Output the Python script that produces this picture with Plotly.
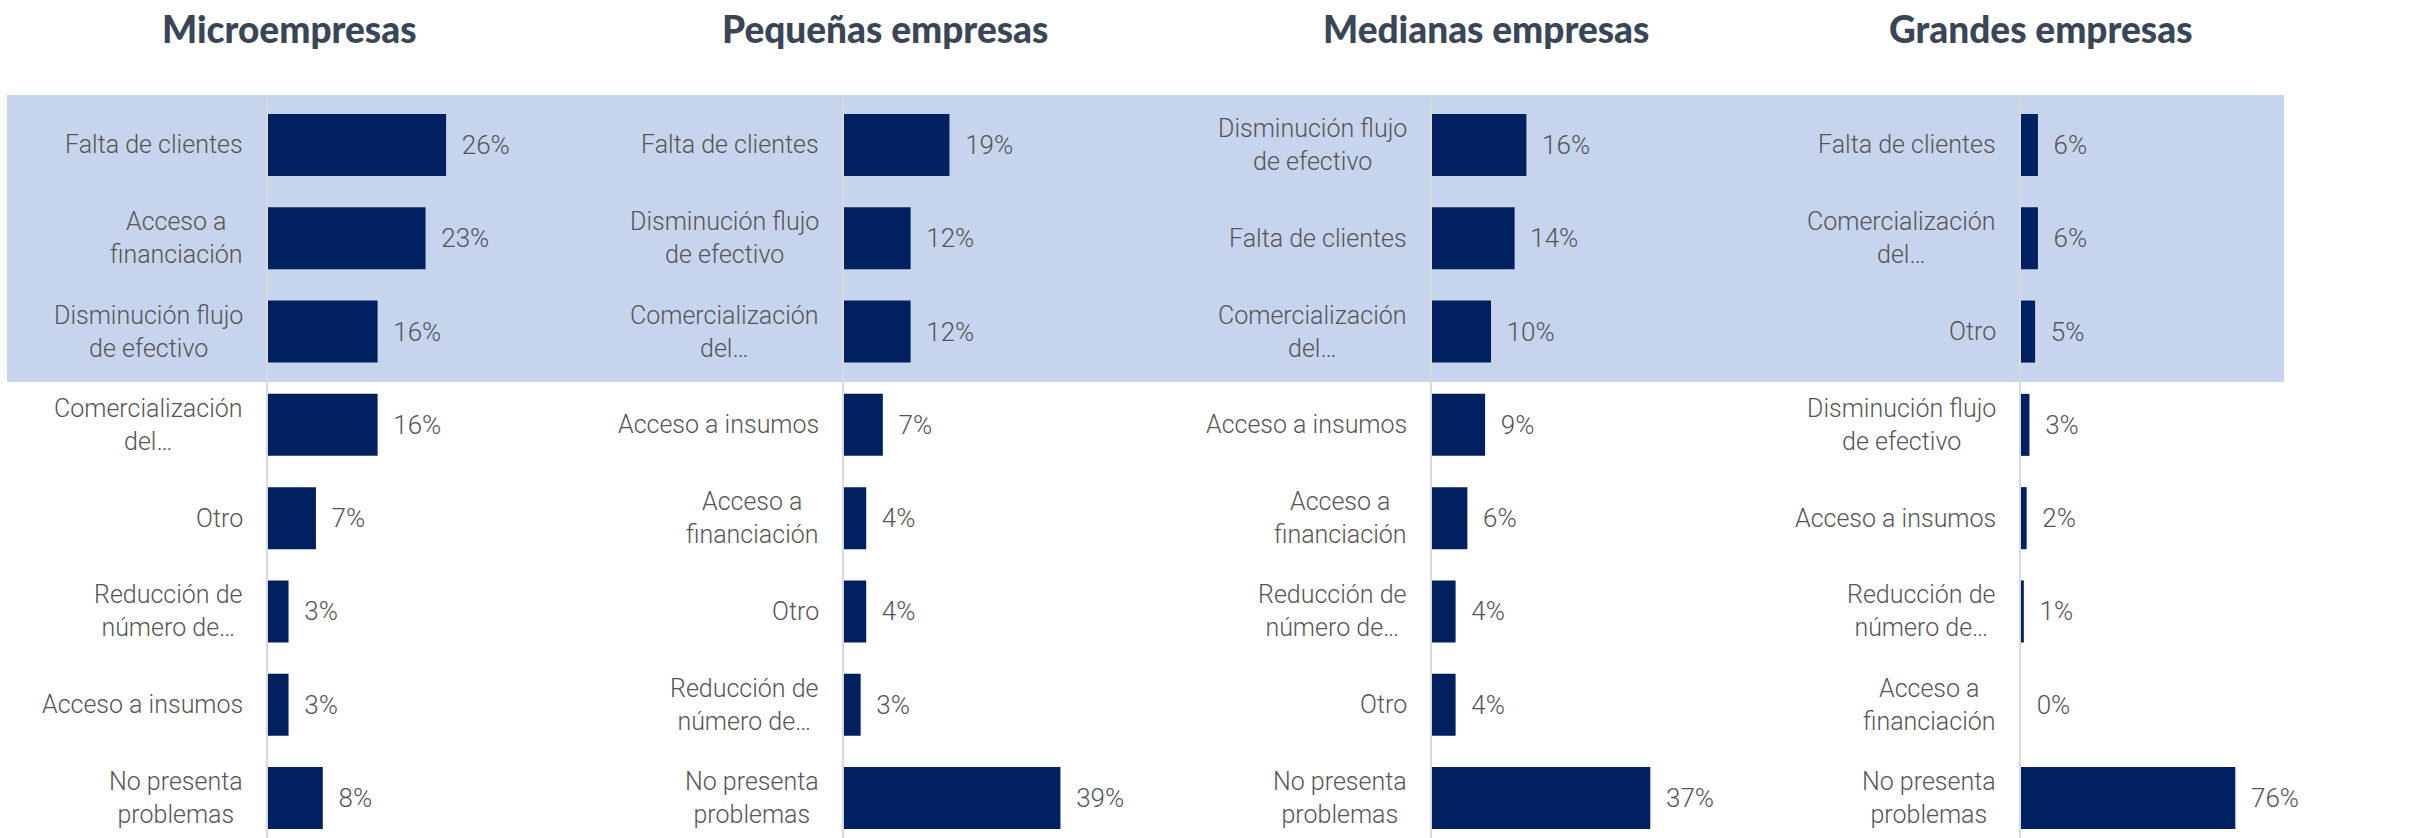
import plotly.graph_objects as go

W, H = 2413, 838

titles = ["Microempresas", "Pequeñas empresas", "Medianas empresas", "Grandes empresas"]

micro_labels = ["Falta de clientes", "Acceso a<br>financiación", "Disminución flujo<br>de efectivo",
                "Comercialización<br>del…", "Otro", "Reducción de<br>número de…",
                "Acceso a insumos", "No presenta<br>problemas"]
micro_values = [26, 23, 16, 16, 7, 3, 3, 8]

pequenas_labels = ["Falta de clientes", "Disminución flujo<br>de efectivo", "Comercialización<br>del…",
                   "Acceso a insumos", "Acceso a<br>financiación", "Otro",
                   "Reducción de<br>número de…", "No presenta<br>problemas"]
pequenas_values = [19, 12, 12, 7, 4, 4, 3, 39]

medianas_labels = ["Disminución flujo<br>de efectivo", "Falta de clientes", "Comercialización<br>del…",
                   "Acceso a insumos", "Acceso a<br>financiación", "Reducción de<br>número de…",
                   "Otro", "No presenta<br>problemas"]
medianas_values = [16, 14, 10, 9, 6, 4, 4, 37]

grandes_labels = ["Falta de clientes", "Comercialización<br>del…", "Otro",
                  "Disminución flujo<br>de efectivo", "Acceso a insumos", "Reducción de<br>número de…",
                  "Acceso a<br>financiación", "No presenta<br>problemas"]
grandes_values = [6, 6, 5, 3, 2, 1, 0, 76]

panels = [
    (micro_labels, micro_values),
    (pequenas_labels, pequenas_values),
    (medianas_labels, medianas_values),
    (grandes_labels, grandes_values),
]

# layout geometry (pixels in the reference screenshot)
axis_px = [268, 844, 1432, 2021]
right_px = [560, 1170, 1760, 2413]
px_per_unit = [6.85, 5.55, 5.9, 2.82]
title_cx = [289, 885, 1486, 2041]
plot_top = 98.3
pitch = 93.3


def fx(px):
    return px / W


def fy(py):
    return 1 - py / H


BAR = "#002060"
TXT = "#555555"
LABEL_FONT = "Roboto"

fig = go.Figure()
layout = dict(
    width=W, height=H,
    margin=dict(l=0, r=0, t=0, b=0),
    paper_bgcolor="white",
    plot_bgcolor="rgba(0,0,0,0)",
    showlegend=False,
    bargap=0.335,
)

y_bottom = -0.5 + (H - plot_top) / pitch
annotations = []
for i, (labels, values) in enumerate(panels):
    n = i + 1
    xa = "x" if n == 1 else f"x{n}"
    ya = "y" if n == 1 else f"y{n}"
    ypos = list(range(len(labels)))
    fig.add_trace(go.Bar(
        x=values, y=ypos, orientation="h",
        marker=dict(color=BAR, line=dict(width=0)),
        text=values,
        texttemplate="\u00a0\u00a0%{x}%",
        textposition="outside",
        textfont=dict(family=LABEL_FONT, size=26, color=TXT, weight=300),
        constraintext="none",
        cliponaxis=False,
        xaxis=xa, yaxis=ya,
        hoverinfo="skip",
    ))
    d0 = fx(axis_px[i])
    d1 = min(1.0, fx(right_px[i]))
    rng = (right_px[i] - axis_px[i]) / px_per_unit[i]
    layout["xaxis" if n == 1 else f"xaxis{n}"] = dict(
        domain=[d0, d1], range=[0, rng], visible=False, anchor=ya, fixedrange=True)
    layout["yaxis" if n == 1 else f"yaxis{n}"] = dict(
        domain=[0, fy(plot_top)], range=[y_bottom, -0.5], anchor=xa,
        showline=True, linecolor="#d9d9d9", linewidth=2,
        showticklabels=False, showgrid=False, zeroline=False, ticks="", fixedrange=True)
    for lab, yy in zip(labels, ypos):
        annotations.append(dict(
            text=lab, xref=f"{xa} domain", x=0, xanchor="right", xshift=-23,
            yref=ya, y=yy, yanchor="middle", align="center", showarrow=False,
            font=dict(family=LABEL_FONT, size=25, color=TXT, weight=300),
        ))
    annotations.append(dict(
        text=titles[i], xref="paper", yref="paper",
        x=fx(title_cx[i]), y=fy(29), xanchor="center", yanchor="middle",
        showarrow=False, borderpad=0,
        font=dict(family="Lato", size=37, color="#3a4556", weight=900),
    ))

layout["annotations"] = annotations
layout["shapes"] = [dict(
    type="rect", xref="paper", yref="paper",
    x0=fx(7), x1=fx(2284), y0=fy(382), y1=fy(95),
    fillcolor="#c6d4ed", line=dict(width=0), layer="below",
)]
fig.update_layout(**layout)
fig.write_html(
    "out.html",
    config={"displayModeBar": False, "staticPlot": True},
    post_script="document.body.style.margin='0';document.body.style.overflow='hidden';",
)
